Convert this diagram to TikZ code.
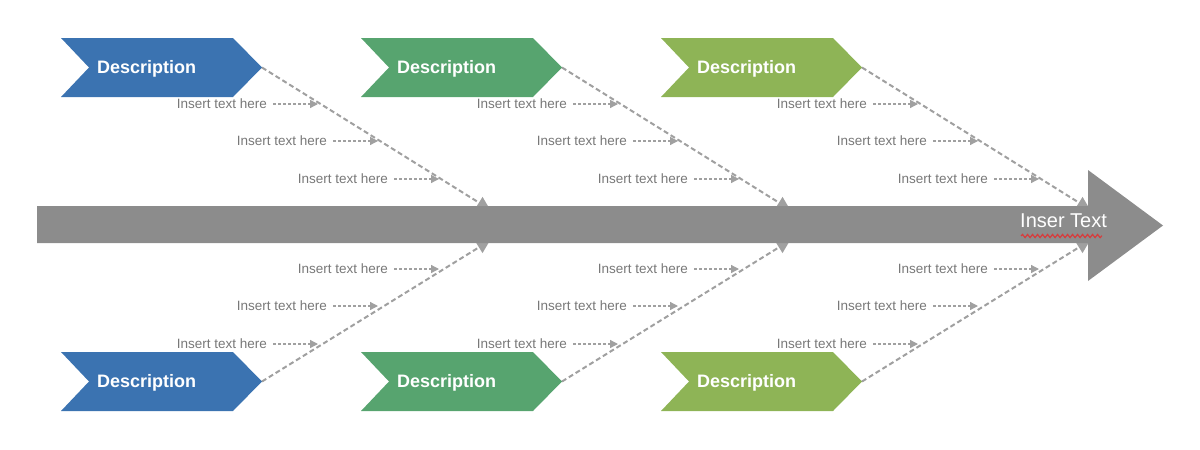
\documentclass[tikz,border=0pt]{standalone}
\usepackage{fontspec}
\setmainfont{Liberation Sans}
\usetikzlibrary{arrows.meta,decorations.pathmorphing}
\definecolor{cblue}{RGB}{59,115,177}
\definecolor{cgreen}{RGB}{87,164,111}
\definecolor{colive}{RGB}{142,180,86}
\definecolor{spinegray}{RGB}{140,140,140}
\definecolor{dashgray}{RGB}{160,160,160}
\definecolor{lblgray}{RGB}{120,120,120}
\definecolor{squiggle}{RGB}{215,60,60}
\tikzset{
  desc/.style={text=white,font=\fontsize{18}{18}\selectfont\bfseries,inner sep=0pt,anchor=base west},
  lbl/.style={text=lblgray,font=\fontsize{13.5}{14}\selectfont,inner sep=0pt,anchor=base east},
  bone/.style={draw=dashgray,line width=2pt,dash pattern=on 5pt off 3pt,-{Triangle[length=13pt,width=13pt]}},
  twig/.style={draw=dashgray,line width=1.3pt,dash pattern=on 3pt off 2pt,-{Triangle[length=8pt,width=8pt]}},
}
\begin{document}
\begin{tikzpicture}[x=1pt,y=-1pt]
\useasboundingbox (0,0) rectangle (1200,450);
% chevrons
\foreach \k/\col in {0/cblue,1/cgreen,2/colive}{
  \pgfmathsetmacro{\ox}{300*\k}
  \foreach \oy/\r in {0/t,314/b}{
    \fill[\col] (61+\ox,38+\oy) -- (233+\ox,38+\oy) -- (262+\ox,67.5+\oy) -- (233+\ox,97+\oy)
      -- (61+\ox,97+\oy) -- (89+\ox,67.5+\oy) -- cycle;
    \coordinate (tip\r\k) at (262+\ox,67.5+\oy);
    \node[desc] (desc\r\k) at (97+\ox,73.5+\oy) {Description};
  }
  \coordinate (headt\k) at (490+\ox,209.5);
  \coordinate (headb\k) at (490+\ox,240.5);
  \draw[bone] (tipt\k) -- (headt\k);
  \draw[bone] (tipb\k) -- (headb\k);
  \foreach \y/\xr/\i in {104/267/1,141/327/2,179/388/3,269/388/4,306/327/5,344/267/6}{
    \node[lbl] (lab\k\i) at (\xr+\ox,\y+4.5) {Insert text here};
    \coordinate (end\k\i) at (\xr+51+\ox,\y);
    \draw[twig] ([xshift=6pt]lab\k\i.east |- end\k\i) -- (end\k\i);
  }
}
% spine
\fill[spinegray] (37,206) -- (1088,206) -- (1088,170) -- (1163,225.5) -- (1088,281) -- (1088,243) -- (37,243) -- cycle;
\node[text=white,font=\fontsize{20}{20}\selectfont,inner sep=0pt,anchor=base west] (head) at (1020,227) {Inser Text};
\draw[squiggle,line width=1.2pt,decorate,decoration={snake,amplitude=1.6pt,segment length=5pt}] (1021,236) -- (1102,236);
\end{tikzpicture}
\end{document}
